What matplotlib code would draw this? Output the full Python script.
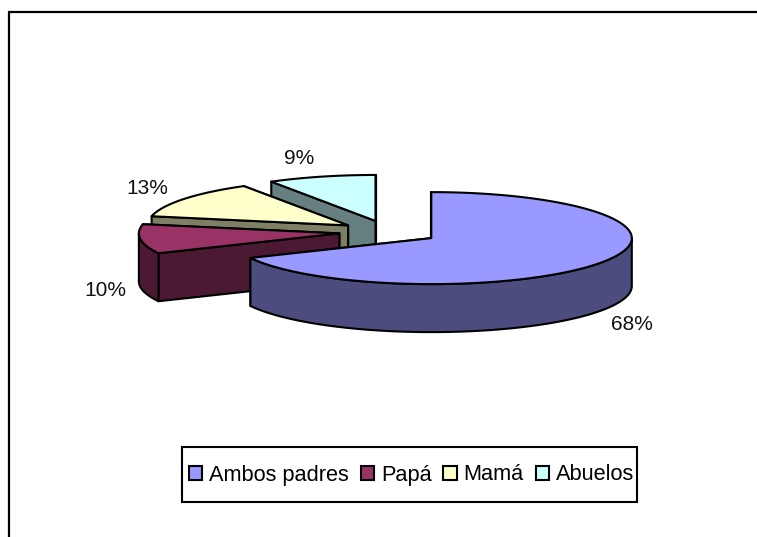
import numpy as np
import matplotlib
matplotlib.use("Agg")
import matplotlib.pyplot as plt
from matplotlib.patches import Patch, Rectangle

plt.rcParams['font.family'] = ['Liberation Sans', 'DejaVu Sans']

categories = ["Ambos padres", "Papá", "Mamá", "Abuelos"]
values = [67.9, 10.3, 13.1, 8.7]
top_colors = ["#9999FF", "#993366", "#FFFFCC", "#CCFFFF"]
side_colors = ["#4C4C7F", "#4C1933", "#7F7F66", "#667F7F"]
label_xy = [(632, 325), (105, 290), (147, 188), (299, 158)]

# pie geometry in figure pixels
CX, CY = 389, 232
RX, RY = 200.5, 46
DEPTH = 48
EXPLODE = 50
LW = 1.5

W, H = 757, 537
fig = plt.figure(figsize=(W / 100, H / 100), dpi=100)
ax = fig.add_axes([0, 0, 1, 1])
ax.set_xlim(0, W)
ax.set_ylim(H, 0)
ax.axis("off")

# chart-area frame (cropped on the right and at the bottom)
ax.plot([9, 9, W + 5], [H + 5, 12, 12], color="black", lw=1.6, solid_joinstyle="miter", clip_on=True)


def xy(center, ang, r=1.0):
    a = np.radians(ang)
    return center[0] + r * RX * np.sin(a), center[1] - r * RY * np.cos(a)


def face(xs, ys, color, z):
    ax.fill(xs, ys, facecolor=color, edgecolor="black", lw=LW, joinstyle="round", zorder=z)


total = sum(values)
edges = np.concatenate([[0], np.cumsum(values)]) / total * 360
order = [3, 2, 1, 0]  # paint from back to front
z = 2
for i in order:
    a0, a1 = edges[i], edges[i + 1]
    mid = np.radians((a0 + a1) / 2)
    c = (CX + EXPLODE * np.sin(mid), CY - EXPLODE * RY / RX * np.cos(mid))
    # radial cut faces
    for a in (a1, a0):
        px, py = xy(c, a)
        face([c[0], px, px, c[0]], [c[1], py, py + DEPTH, c[1] + DEPTH], side_colors[i], z)
        z += 1
    # outer rim facing the viewer
    lo, hi = max(a0, 90), min(a1, 270)
    if hi > lo:
        t = np.linspace(lo, hi, 80)
        rx_, ry_ = xy(c, t)
        face(np.r_[rx_, rx_[::-1]], np.r_[ry_, ry_[::-1] + DEPTH], side_colors[i], z)
        z += 1
    # top surface
    t = np.linspace(a0, a1, 160)
    tx, ty = xy(c, t)
    face(np.r_[c[0], tx], np.r_[c[1], ty], top_colors[i], z)
    z += 1

for v, (x, y) in zip(values, label_xy):
    ax.text(x, y, f"{v:.0f}%", ha="center", va="center", fontsize=15, color="#111111", zorder=z)

# legend frame, then the legend entries inside it
ax.add_patch(Rectangle((182, 447), 455, 55, facecolor="white", edgecolor="black", lw=LW, zorder=z + 1))
handles = [Patch(facecolor=f, edgecolor="black", lw=LW) for f in top_colors]
leg = ax.legend(
    handles, categories, ncol=4, loc="center",
    bbox_to_anchor=(411.5, 475), bbox_transform=ax.transData,
    fontsize=15.7, frameon=False,
    handlelength=0.6, handleheight=0.6, handletextpad=0.32,
    columnspacing=0.55, borderpad=0, borderaxespad=0,
)
leg.set_zorder(z + 2)

fig.savefig("out.png", dpi=100)
